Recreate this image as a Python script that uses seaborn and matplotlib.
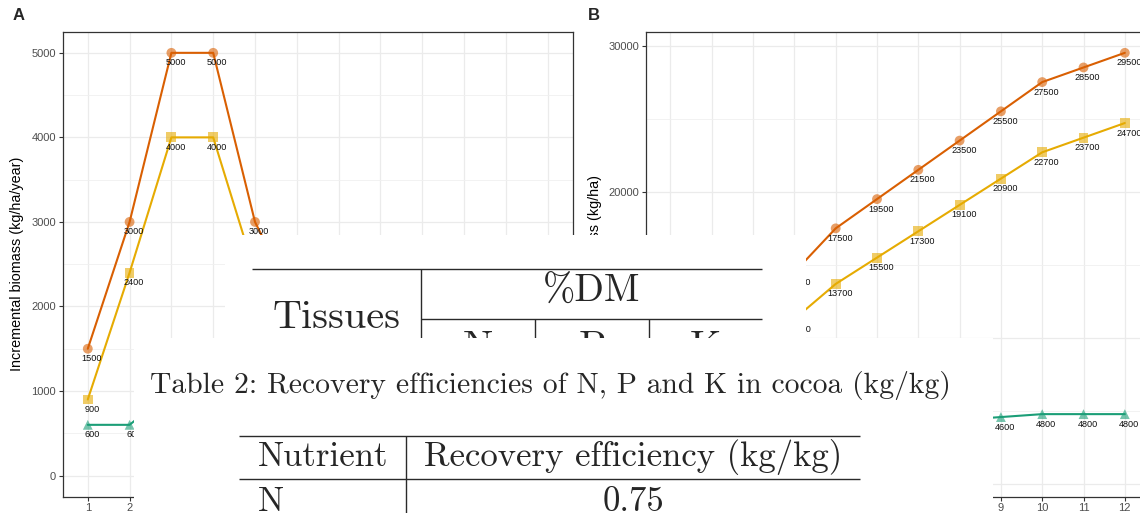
import matplotlib
matplotlib.use("Agg")
import matplotlib.pyplot as plt
import numpy as np
import pandas as pd
import seaborn as sns

# ---- data ----
years = list(range(1, 13))
series_names = ["Total", "Part 1", "Part 2"]

# panel A: incremental biomass (kg/ha/year)
inc_total = [1500, 3000, 5000, 5000, 3000, 2000, 2000, 2000, 2000, 2000, 1000, 1000]
inc_part1 = [900, 2400, 4000, 4000, 2400, 1800, 1800, 1800, 1800, 1800, 1000, 1000]
inc_part2 = [600, 600, 1000, 1000, 600, 200, 200, 200, 200, 200, 0, 0]

# panel B: cumulative biomass (kg/ha)
cum_total = [1500, 4500, 9500, 14500, 17500, 19500, 21500, 23500, 25500, 27500, 28500, 29500]
cum_part1 = [900, 3300, 7300, 11300, 13700, 15500, 17300, 19100, 20900, 22700, 23700, 24700]
cum_part2 = [600, 1200, 2200, 3200, 3800, 4000, 4200, 4400, 4600, 4800, 4800, 4800]

colors = {"Total": "#D95F02", "Part 1": "#E6AB02", "Part 2": "#1B9E77"}
markers = {"Total": "o", "Part 1": "s", "Part 2": "^"}

# overlaid table text
table1_first_col = "Tissues"
table1_group = "%DM"
table1_cols = ["N", "P", "K"]
table2_caption = "Table 2: Recovery efficiencies of N, P and K in cocoa (kg/kg)"
table2_header = ["Nutrient", "Recovery efficiency (kg/kg)"]
table2_rows = [["N", "0.75"]]

W, H = 1140, 513

sns.set_style("whitegrid")
plt.rcParams["font.family"] = ["Liberation Sans", "DejaVu Sans"]
TEX = ["cmr10", "DejaVu Serif"]


def long_df(vals):
    frames = []
    for name, v in zip(series_names, vals):
        frames.append(pd.DataFrame({"year": years, "value": v, "series": name}))
    return pd.concat(frames, ignore_index=True)


def px_axes(fig, x0, y0, x1, y1):
    return fig.add_axes([x0 / W, 1 - y1 / H, (x1 - x0) / W, (y1 - y0) / H])


def draw_panel(ax, df, ylim, major, minor, ylabel, label_x):
    sns.lineplot(data=df, x="year", y="value", hue="series", palette=colors,
                 legend=False, linewidth=1.5, ax=ax, zorder=3)
    sns.scatterplot(data=df, x="year", y="value", hue="series", style="series",
                    palette=colors, markers=markers, s=50, alpha=0.6,
                    linewidth=0, legend=False, ax=ax, zorder=4)
    for _, r in df.iterrows():
        ax.annotate(f"{int(r['value'])}", (r["year"], r["value"]), xytext=(3, -7.2),
                    textcoords="offset points", ha="center", va="center",
                    fontsize=6.6, color="#111111", zorder=5)
    ax.set_xlim(0.4, 12.6)
    ax.set_ylim(*ylim)
    ax.set_xticks(years)
    ax.set_yticks(major)
    ax.set_yticks(minor, minor=True)
    ax.grid(which="major", color="#EBEBEB", linewidth=0.9)
    ax.grid(which="minor", color="#F0F0F0", linewidth=0.6)
    ax.set_axisbelow(True)
    ax.set_xlabel("")
    ax.set_ylabel(ylabel, fontsize=10.4, color="black")
    ax.yaxis.set_label_coords(label_x, 0.5)
    ax.tick_params(axis="both", which="major", length=3, width=0.8, pad=1.8,
                   color="#333333", labelcolor="#4D4D4D", labelsize=8,
                   left=True, bottom=True)
    ax.tick_params(which="minor", length=0)
    for s in ax.spines.values():
        s.set_color("#333333")
        s.set_linewidth(0.9)


fig = plt.figure(figsize=(W / 100, H / 100), dpi=100)

axA = px_axes(fig, 62.7, 31.7, 572.7, 496.7)
draw_panel(axA, long_df([inc_total, inc_part1, inc_part2]), (-250, 5250),
           np.arange(0, 5001, 1000), np.arange(500, 5001, 1000),
           "Incremental biomass (kg/ha/year)", -0.076)

axB = px_axes(fig, 645.7, 31.7, 1149.6, 496.7)
draw_panel(axB, long_df([cum_total, cum_part1, cum_part2]), (-845, 30945),
           np.arange(0, 30001, 10000), np.arange(5000, 30001, 10000),
           "Cumulative biomass (kg/ha)", -0.0873)

fig.text(12.5 / W, 1 - 20.5 / H, "A", fontsize=12, fontweight="bold", va="baseline")
fig.text(587.5 / W, 1 - 20.5 / H, "B", fontsize=12, fontweight="bold", va="baseline")


def box(x0, y0, x1, y1):
    ax = px_axes(fig, x0, y0, x1, y1)
    ax.set_xlim(x0, x1)
    ax.set_ylim(y1, y0)
    ax.set_facecolor("white")
    ax.grid(False)
    ax.set_xticks([])
    ax.set_yticks([])
    for s in ax.spines.values():
        s.set_visible(False)
    return ax


rule = dict(color="#2a2a2a", linewidth=1.0, solid_capstyle="butt")

# upper table fragment
t1 = box(225, 235, 806, 338)
t1.plot([252, 762], [269, 269], **rule)
t1.plot([421, 421], [269, 360], **rule)
t1.plot([421, 762], [319, 319], **rule)
for xv in [535, 649]:
    t1.plot([xv, xv], [319, 360], **rule)
t1.text(336.5, 328, table1_first_col, family=TEX, fontsize=29, ha="center",
        va="baseline", clip_on=True)
t1.text(591.5, 302, table1_group, family=TEX, fontsize=28, ha="center",
        va="baseline", clip_on=True)
for xc, lab in zip([478, 592, 705.5], table1_cols):
    t1.text(xc, 358, lab, family=TEX, fontsize=29, ha="center", va="baseline",
            clip_on=True)

# caption + lower table fragment
t2 = box(134, 338, 993, 513)
t2.text(150, 393, table2_caption, family=TEX, fontsize=21.3, ha="left",
        va="baseline", clip_on=True)
t2.plot([239, 860], [436, 436], **rule)
t2.plot([239, 860], [479, 479], **rule)
t2.plot([406, 406], [436, 530], **rule)
t2.text(258, 466, table2_header[0], family=TEX, fontsize=25, ha="left",
        va="baseline", clip_on=True)
t2.text(633, 466, table2_header[1], family=TEX, fontsize=25, ha="center",
        va="baseline", clip_on=True)
for i, (nut, eff) in enumerate(table2_rows):
    yb = 511 + 44 * i
    t2.text(258, yb, nut, family=TEX, fontsize=25, ha="left", va="baseline",
            clip_on=True)
    t2.text(633, yb, eff, family=TEX, fontsize=25, ha="center", va="baseline",
            clip_on=True)

fig.savefig("out.png", dpi=100)
